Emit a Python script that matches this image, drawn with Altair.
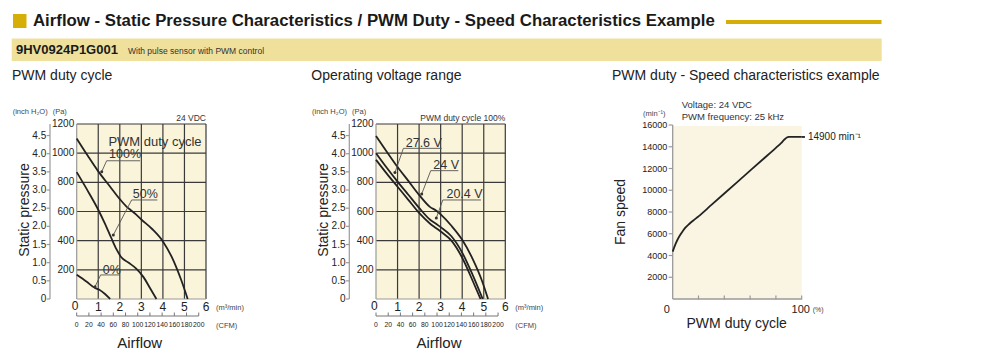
import altair as alt
import pandas as pd

# ---------------- data ----------------
# Panel 1 - PWM duty cycle (24 VDC): airflow [m3/min] vs static pressure [Pa]
duty100_airflow = [0, 0.5, 1, 1.5, 2, 2.3, 2.5, 2.75, 3, 3.5, 4, 4.5, 4.85, 5.15]
duty100_pressure = [1100, 985, 875, 780, 685, 635, 610, 580, 545, 480, 395, 260, 130, 0]
duty50_airflow = [0, 0.5, 1, 1.3, 1.6, 1.85, 2.05, 2.4, 2.75, 3.1, 3.4, 3.7]
duty50_pressure = [870, 745, 612, 520, 420, 340, 290, 250, 210, 150, 75, 0]
duty0_airflow = [0, 0.45, 0.85, 1.05, 1.3, 1.55]
duty0_pressure = [166, 120, 75, 63, 36, 0]

# Panel 2 - Operating voltage range (PWM duty cycle 100%)
v276_airflow = [0, 0.5, 1, 1.5, 2, 2.5, 2.8, 3, 3.5, 4, 4.5, 4.9, 5.2]
v276_pressure = [1118, 1010, 905, 810, 714, 632, 605, 580, 502, 406, 270, 132, 0]
v24_airflow = [0, 0.5, 1, 1.5, 2, 2.5, 2.8, 3, 3.5, 4, 4.5, 4.95]
v24_pressure = [1000, 900, 805, 715, 625, 545, 515, 493, 430, 318, 160, 0]
v204_airflow = [0, 0.5, 1, 1.5, 2, 2.5, 2.8, 3, 3.5, 4, 4.5, 4.85]
v204_pressure = [955, 860, 770, 680, 590, 518, 485, 463, 400, 283, 120, 0]

# Panel 3 - PWM duty vs fan speed
speed_duty = [0, 2, 4, 6, 8, 10, 13, 16, 20, 30, 40, 50, 60, 70, 80, 84, 86.5, 88.5, 90, 100]
speed_rpm = [4360, 5000, 5520, 5930, 6280, 6580, 6920, 7220, 7600, 8650, 9700, 10750,
             11800, 12850, 13900, 14330, 14650, 14850, 14900, 14900]
max_speed = 14900

# axis ticks / labels
airflow_ticks = [0, 1, 2, 3, 4, 5, 6]
pa_ticks = [0, 200, 400, 600, 800, 1000, 1200]
inch_ticks = [0, 0.5, 1.0, 1.5, 2.0, 2.5, 3.0, 3.5, 4.0, 4.5]
inch_labels = ["0", "0.5", "1.0", "1.5", "2.0", "2.5", "3.0", "3.5", "4.0", "4.5"]
cfm_ticks = [0, 20, 40, 60, 80, 100, 120, 140, 160, 180, 200]
rpm_ticks = [2000, 4000, 6000, 8000, 10000, 12000, 14000, 16000]
duty_ticks = [20, 40, 60, 80, 100]

# annotation labels (data units): text, text pos, underline, leader end on curve
p1_ann = dict(text=["100%", "50%", "0%"],
              tx=[1.50, 2.60, 1.21], tp=[992, 720, 199],
              ux0=[1.39, 2.55, 1.11], ux1=[2.94, 3.74, 2.01], up=[948, 679, 165],
              cx=[1.16, 1.70, 0.85], cp=[873, 439, 84])
p2_ann = dict(text=["27.6 V", "24 V", "20.4 V"],
              tx=[1.38, 2.66, 3.27], tp=[1072, 919, 720],
              ux0=[1.27, 2.54, 3.10], ux1=[3.05, 3.82, 4.87], up=[1033, 880, 679],
              cx=[0.88, 2.12, 2.80], cp=[867, 720, 555])

PA_PER_INH2O = 249.089
CFM_PER_M3MIN = 35.3147

# ---------------- style / layout ----------------
FONT = "Liberation Sans, Arial, sans-serif"
INK = "#222222"
GRID = "#3a3a3a"
AXIS = "#9a9a9a"
CREAM = "#FAF4DA"
CREAM3 = "#FAF5E2"
GOLD = "#D6AE08"
BAND = "#EFE09C"

PLOT_TOP, PLOT_BOTTOM = 124, 299
P1_X = [76.7, 206.0]
P2_X = [376.0, 505.3]
P3_X = [672.7, 801.7]
P3_TOP = 125

ONE = pd.DataFrame({"k": [0]})


def sc(domain, rng):
    return alt.Scale(domain=domain, range=rng, nice=False, zero=False)


def txt(s, x, y, size, weight="normal", align="left", color=INK, angle=0):
    return alt.Chart(ONE).mark_text(
        text=s, align=align, baseline="middle", fontSize=size, fontWeight=weight,
        font=FONT, color=color, angle=angle
    ).encode(x=alt.value(x), y=alt.value(y))


def curves_df(parts):
    rows = []
    for name, xs, ys in parts:
        for a, b in zip(xs, ys):
            rows.append({"series": name, "a": a, "p": b})
    return pd.DataFrame(rows)


def pq_panel(xr, curves, ann, corner_note, title):
    xs = sc([0, 6], xr)
    ys = sc([0, 1200], [PLOT_BOTTOM, PLOT_TOP])
    cfm = sc([0, 6 * CFM_PER_M3MIN], xr)
    inch = sc([0, 1200 / PA_PER_INH2O], [PLOT_BOTTOM, PLOT_TOP])
    X = lambda f, s=xs: alt.X(f"{f}:Q", scale=s, axis=None)
    Y = lambda f, s=ys: alt.Y(f"{f}:Q", scale=s, axis=None)
    x0 = xr[0]
    L = []
    bg = pd.DataFrame({"a0": [airflow_ticks[0]], "a1": [airflow_ticks[-1]],
                       "p0": [pa_ticks[0]], "p1": [pa_ticks[-1]]})
    L.append(alt.Chart(bg).mark_rect(color=CREAM).encode(x=X("a0"), x2="a1", y=Y("p0"), y2="p1"))
    vg = pd.DataFrame({"a": airflow_ticks[1:], "lo": pa_ticks[0], "hi": pa_ticks[-1]})
    L.append(alt.Chart(vg).mark_rule(color=GRID, strokeWidth=1.2).encode(x=X("a"), y=Y("lo"), y2="hi"))
    hg = pd.DataFrame({"p": pa_ticks[1:], "lo": airflow_ticks[0], "hi": airflow_ticks[-1]})
    L.append(alt.Chart(hg).mark_rule(color=GRID, strokeWidth=1.2).encode(y=Y("p"), x=X("lo"), x2="hi"))
    # gray axis lines along 0
    L.append(alt.Chart(bg).mark_rule(color=AXIS, strokeWidth=1.2).encode(x=X("a0"), y=Y("p0"), y2="p1"))
    L.append(alt.Chart(bg).mark_rule(color=AXIS, strokeWidth=1.2).encode(y=Y("p0"), x=X("a0"), x2="a1"))
    # curves
    L.append(alt.Chart(curves).mark_line(color=INK, strokeWidth=1.8, interpolate="monotone").encode(
        x=X("a"), y=Y("p"), detail="series:N"))
    # annotations
    adf = pd.DataFrame(ann)
    L.append(alt.Chart(adf).mark_rule(color="#555", strokeWidth=0.9).encode(x=X("ux0"), x2="ux1", y=Y("up")))
    L.append(alt.Chart(adf).mark_rule(color="#555", strokeWidth=0.9).encode(x=X("ux0"), x2="cx", y=Y("up"), y2="cp"))
    L.append(alt.Chart(adf).mark_circle(color="#333", size=9, opacity=1).encode(x=X("cx"), y=Y("cp")))
    L.append(alt.Chart(adf).mark_text(align="left", baseline="middle", fontSize=12.5, font=FONT,
                                      color="#333").encode(x=X("tx"), y=Y("tp"), text="text:N"))
    # Pa labels
    pl = pd.DataFrame({"p": pa_ticks[1:], "lab": [str(v) for v in pa_ticks[1:]]})
    L.append(alt.Chart(pl).mark_text(align="right", baseline="middle", fontSize=10, font=FONT,
                                     color=INK).encode(y=Y("p"), x=alt.value(x0 - 2.5), text="lab:N"))
    # inch H2O axis
    il = pd.DataFrame({"i": inch_ticks, "lab": inch_labels})
    iline = pd.DataFrame({"i0": [0], "i1": [1200 / PA_PER_INH2O]})
    L.append(alt.Chart(iline).mark_rule(color=AXIS, strokeWidth=1.2).encode(
        y=Y("i0", inch), y2="i1", x=alt.value(x0 - 26.7)))
    L.append(alt.Chart(il).mark_rule(color=AXIS, strokeWidth=1.2).encode(
        y=Y("i", inch), x=alt.value(x0 - 30), x2=alt.value(x0 - 26.7)))
    L.append(alt.Chart(il).mark_text(align="right", baseline="middle", fontSize=10, font=FONT,
                                     color=INK).encode(y=Y("i", inch), x=alt.value(x0 - 30.5), text="lab:N"))
    # m3/min labels
    al = pd.DataFrame({"a": airflow_ticks[1:], "lab": [str(v) for v in airflow_ticks[1:]]})
    L.append(alt.Chart(al).mark_text(align="center", baseline="middle", fontSize=12, font=FONT,
                                     color=INK).encode(x=X("a"), y=alt.value(306.5), text="lab:N"))
    L.append(txt("0", x0 - 5, 305.5, 12))
    # CFM axis
    cl = pd.DataFrame({"c": cfm_ticks, "lab": [str(v) for v in cfm_ticks]})
    cline = pd.DataFrame({"c0": [cfm_ticks[0]], "c1": [cfm_ticks[-1]]})
    L.append(alt.Chart(cline).mark_rule(color="#777", strokeWidth=1).encode(
        x=X("c0", cfm), x2="c1", y=alt.value(316)))
    L.append(alt.Chart(cl).mark_rule(color="#777", strokeWidth=1).encode(
        x=X("c", cfm), y=alt.value(312.5), y2=alt.value(316)))
    L.append(alt.Chart(cl).mark_text(align="center", baseline="middle", fontSize=6.8, font=FONT,
                                     color=INK).encode(x=X("c", cfm), y=alt.value(324.5), text="lab:N"))
    # unit texts / titles
    L.append(txt("(m³/min)", xr[1] + 10, 307.5, 7.5, color="#444"))
    L.append(txt("(CFM)", xr[1] + 10, 326, 7.5, color="#444"))
    L.append(txt("(inch H₂O)", x0 - 64, 112, 7.5, color="#444"))
    L.append(txt("(Pa)", x0 - 24, 112, 7.5, color="#444"))
    L.append(txt(corner_note, xr[1], 118, 8.5, align="right", color="#333"))
    L.append(txt("Airflow", x0 + 63, 343, 15, align="center"))
    L.append(txt("Static pressure", x0 - 52, 210, 14, align="center", angle=270))
    L.append(txt(title, x0 - 64.7, 76, 14))
    return L


layers = []

# ---------------- header ----------------
layers.append(alt.Chart(ONE).mark_rect(color=GOLD).encode(
    x=alt.value(13), x2=alt.value(26.5), y=alt.value(14), y2=alt.value(28)))
layers.append(txt("Airflow - Static Pressure Characteristics / PWM Duty - Speed Characteristics Example",
                  33, 21, 16.8, weight="bold", color="#1a1a1a"))
layers.append(alt.Chart(ONE).mark_rule(color=GOLD, strokeWidth=4).encode(
    x=alt.value(726), x2=alt.value(881.5), y=alt.value(22)))
layers.append(alt.Chart(ONE).mark_rect(color=BAND).encode(
    x=alt.value(11.7), x2=alt.value(881.7), y=alt.value(38.5), y2=alt.value(61)))
layers.append(txt("9HV0924P1G001", 16, 50, 13, weight="bold", color="#1a1a1a"))
layers.append(txt("With pulse sensor with PWM control", 128, 50.5, 8.5, color="#333"))

# ---------------- panels 1 & 2 ----------------
p1 = curves_df([("100%", duty100_airflow, duty100_pressure),
                ("50%", duty50_airflow, duty50_pressure),
                ("0%", duty0_airflow, duty0_pressure)])
layers += pq_panel(P1_X, p1, p1_ann, "24 VDC", "PWM duty cycle")
layers.append(alt.Chart(ONE).mark_text(text="PWM duty cycle", align="left", baseline="middle",
                                       fontSize=13, font=FONT, color="#333").encode(
    x=alt.X("a:Q", scale=sc([0, 6], P1_X), axis=None),
    y=alt.Y("p:Q", scale=sc([0, 1200], [PLOT_BOTTOM, PLOT_TOP]), axis=None)).transform_calculate(
    a="1.47", p="1080"))

p2 = curves_df([("27.6 V", v276_airflow, v276_pressure),
                ("24 V", v24_airflow, v24_pressure),
                ("20.4 V", v204_airflow, v204_pressure)])
layers += pq_panel(P2_X, p2, p2_ann, "PWM duty cycle 100%", "Operating voltage range")

# ---------------- panel 3 ----------------
xs3 = sc([0, 100], P3_X)
ys3 = sc([0, 16000], [PLOT_BOTTOM, P3_TOP])
X3 = lambda f: alt.X(f"{f}:Q", scale=xs3, axis=None)
Y3 = lambda f: alt.Y(f"{f}:Q", scale=ys3, axis=None)
bg3 = pd.DataFrame({"d0": [0], "d1": [100], "r0": [0], "r1": [15900], "r2": [16000]})
layers.append(alt.Chart(bg3).mark_rect(color=CREAM3).encode(x=X3("d0"), x2="d1", y=Y3("r0"), y2="r1"))
layers.append(alt.Chart(bg3).mark_rule(color=AXIS, strokeWidth=1.3).encode(x=X3("d0"), y=Y3("r0"), y2="r2"))
layers.append(alt.Chart(bg3).mark_rule(color=AXIS, strokeWidth=1.3).encode(y=Y3("r0"), x=X3("d0"), x2="d1"))
rt = pd.DataFrame({"r": rpm_ticks, "lab": [str(v) for v in rpm_ticks]})
layers.append(alt.Chart(rt).mark_rule(color=AXIS, strokeWidth=1.2).encode(
    y=Y3("r"), x=alt.value(P3_X[0] - 4), x2=alt.value(P3_X[0])))
layers.append(alt.Chart(rt).mark_text(align="right", baseline="middle", fontSize=9, font=FONT,
                                      color=INK).encode(y=Y3("r"), x=alt.value(P3_X[0] - 5.5), text="lab:N"))
dt = pd.DataFrame({"d": duty_ticks})
layers.append(alt.Chart(dt).mark_rule(color=AXIS, strokeWidth=1.2).encode(
    x=X3("d"), y=alt.value(295.5), y2=alt.value(299.5)))
layers.append(txt("0", P3_X[0] - 6, 309.5, 11, align="center"))
layers.append(txt("100", P3_X[1] - 1, 309.5, 11, align="center"))
layers.append(txt("(%)", P3_X[1] + 11, 310, 7, color="#444"))
sp = pd.DataFrame({"d": speed_duty, "r": speed_rpm})
layers.append(alt.Chart(sp).mark_line(color=INK, strokeWidth=1.8, interpolate="monotone").encode(
    x=X3("d"), y=Y3("r")))
lead = pd.DataFrame({"d0": [100], "d1": [102.5], "r": [max_speed], "lab": [f"{max_speed} min⁻¹"]})
layers.append(alt.Chart(lead).mark_rule(color=INK, strokeWidth=1.8).encode(x=X3("d0"), x2="d1", y=Y3("r")))
layers.append(alt.Chart(lead).mark_text(align="left", baseline="middle", fontSize=10, font=FONT,
                                        color=INK, dx=3).encode(x=X3("d1"), y=Y3("r"), text="lab:N"))
layers.append(txt("Voltage: 24 VDC", 681.7, 105, 9.5, color="#333"))
layers.append(txt("PWM frequency: 25 kHz", 681.7, 117.3, 9.5, color="#333"))
layers.append(txt("(min⁻¹)", 643, 113.5, 7.5, color="#444"))
layers.append(txt("Fan speed", 621, 212, 14, align="center", angle=270))
layers.append(txt("PWM duty cycle", 736.7, 324, 14, align="center"))
layers.append(txt("PWM duty - Speed characteristics example", 612, 76, 14))

chart = alt.layer(*layers).resolve_scale(x="independent", y="independent").properties(
    width=1000, height=356, padding=0, autosize=alt.AutoSizeParams(type="none"),
    background="white"
).configure_view(stroke=None)

chart.save("out.html", embed_options={"renderer": "svg", "actions": False})
